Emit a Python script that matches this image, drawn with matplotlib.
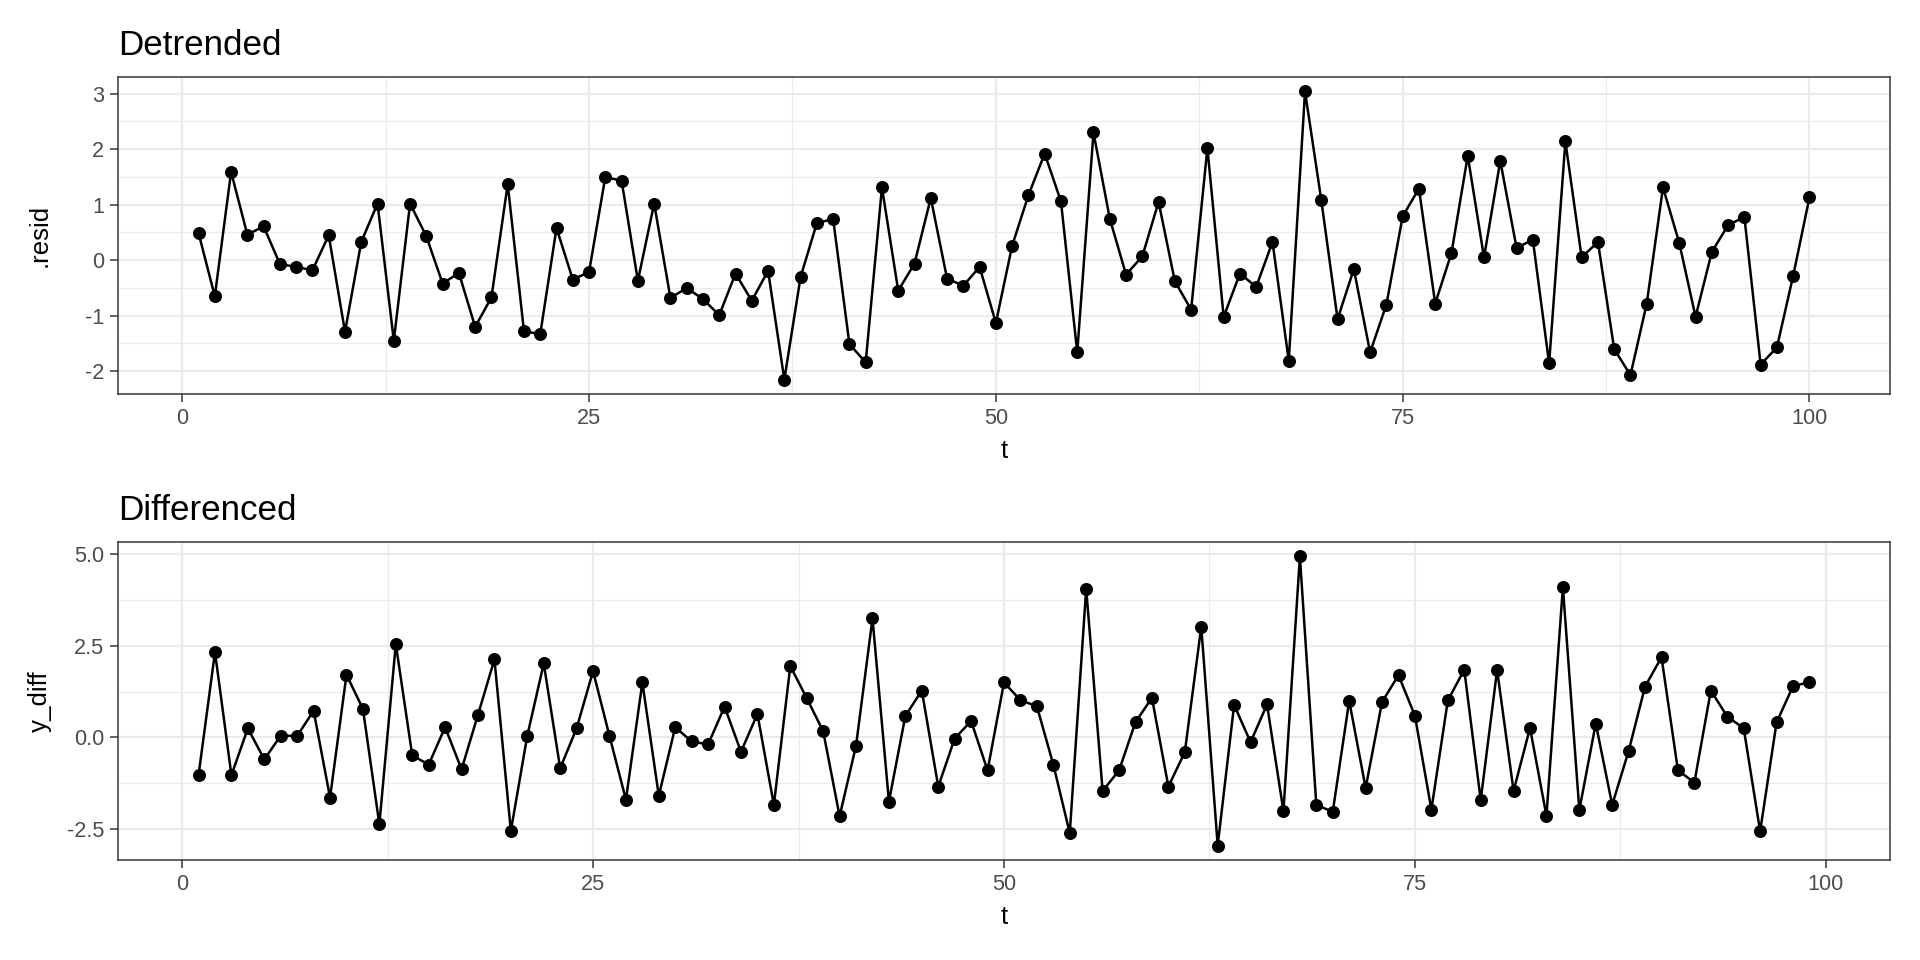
#!/usr/bin/env python
# -*- coding: utf-8 -*-

import numpy as np
import matplotlib
matplotlib.use("Agg")
import matplotlib.pyplot as plt
from matplotlib.ticker import MultipleLocator, FormatStrFormatter


############################################
# DATA
############################################

# residuals of the detrended series, t = 1..100
resid = [
    0.49, -0.65, 1.59, 0.46, 0.61, -0.07, -0.12, -0.18, 0.45, -1.29,
    0.33, 1.02, -1.45, 1.02, 0.43, -0.42, -0.23, -1.20, -0.67, 1.37,
    -1.28, -1.33, 0.58, -0.35, -0.21, 1.50, 1.43, -0.37, 1.02, -0.68,
    -0.50, -0.70, -0.99, -0.24, -0.73, -0.19, -2.15, -0.30, 0.67, 0.74,
    -1.51, -1.84, 1.31, -0.55, -0.06, 1.12, -0.33, -0.46, -0.12, -1.13,
    0.26, 1.17, 1.92, 1.06, -1.66, 2.30, 0.75, -0.26, 0.07, 1.05,
    -0.38, -0.89, 2.02, -1.02, -0.24, -0.48, 0.33, -1.81, 3.04, 1.08,
    -1.06, -0.16, -1.66, -0.80, 0.79, 1.29, -0.78, 0.13, 1.88, 0.05,
    1.79, 0.22, 0.37, -1.86, 2.14, 0.05, 0.33, -1.60, -2.07, -0.78,
    1.31, 0.31, -1.02, 0.15, 0.63, 0.78, -1.88, -1.57, -0.28, 1.13,
]
t_resid = list(range(1, len(resid) + 1))

# first differences, t = 1..99
y_diff = [
    -1.03, 2.33, -1.03, 0.25, -0.60, 0.05, 0.04, 0.73, -1.64, 1.71,
    0.78, -2.37, 2.55, -0.49, -0.74, 0.28, -0.87, 0.62, 2.13, -2.55,
    0.05, 2.02, -0.84, 0.25, 1.81, 0.04, -1.70, 1.50, -1.59, 0.28,
    -0.11, -0.19, 0.84, -0.39, 0.64, -1.84, 1.95, 1.07, 0.17, -2.15,
    -0.22, 3.25, -1.75, 0.59, 1.28, -1.34, -0.03, 0.45, -0.90, 1.50,
    1.02, 0.85, -0.74, -2.61, 4.06, -1.46, -0.90, 0.42, 1.08, -1.34,
    -0.40, 3.02, -2.95, 0.89, -0.13, 0.90, -2.01, 4.94, -1.84, -2.03,
    1.00, -1.38, 0.97, 1.70, 0.59, -1.97, 1.01, 1.85, -1.71, 1.84,
    -1.46, 0.26, -2.14, 4.10, -1.98, 0.38, -1.84, -0.37, 1.39, 2.19,
    -0.90, -1.23, 1.28, 0.57, 0.25, -2.56, 0.41, 1.40, 1.51,
]
t_diff = list(range(1, len(y_diff) + 1))

x_ticks = [0, 25, 50, 75, 100]


############################################
# HELPERS
############################################

W, H = 1920, 960
GRID = "#EBEBEB"


def expand(vals, mult=0.05):
    # ggplot-style 5% padding on each side
    lo, hi = min(vals), max(vals)
    pad = (hi - lo) * mult
    return lo - pad, hi + pad


def bw_panel(ax, x, y, title, ylab, ystep, yfmt):
    ax.plot(x, y, color="black", lw=1.5, zorder=3)
    ax.plot(x, y, "o", color="black", ms=6.8, zorder=4)

    ax.set_xlim(*expand(x))
    ax.set_ylim(*expand(y))
    ax.set_xticks(x_ticks)
    ax.xaxis.set_minor_locator(MultipleLocator(12.5))
    ax.yaxis.set_major_locator(MultipleLocator(ystep))
    ax.yaxis.set_minor_locator(MultipleLocator(ystep / 2))
    ax.yaxis.set_major_formatter(FormatStrFormatter(yfmt))

    ax.grid(which="major", color=GRID, lw=1.3, zorder=0)
    ax.grid(which="minor", color=GRID, lw=0.7, zorder=0)
    ax.set_axisbelow(True)

    for s in ax.spines.values():
        s.set_color("#333333")
        s.set_linewidth(0.9)

    ax.tick_params(which="major", length=4.8, width=0.9, color="#333333",
                   labelsize=13, labelcolor="#4D4D4D", pad=3.5)
    ax.tick_params(which="minor", length=0)

    ax.set_title(title, loc="left", fontsize=21, pad=13)
    ax.set_xlabel("t", fontsize=15.5, labelpad=6)
    ax.set_ylabel(ylab, fontsize=15.5)
    ax.yaxis.set_label_coords((52 - 118) / 1772, 0.5)


############################################
# FIGURE
############################################

plt.rcParams["font.family"] = ["Liberation Sans", "DejaVu Sans"]

fig = plt.figure(figsize=(16, 8), dpi=120)
ax1 = fig.add_axes([118 / W, 1 - 394 / H, 1772 / W, 317 / H])
ax2 = fig.add_axes([118 / W, 1 - 860 / H, 1772 / W, 318 / H])

bw_panel(ax1, t_resid, resid, "Detrended", ".resid", 1, "%d")
bw_panel(ax2, t_diff, y_diff, "Differenced", "y_diff", 2.5, "%.1f")

fig.savefig("out.png", dpi=120, facecolor="white")
